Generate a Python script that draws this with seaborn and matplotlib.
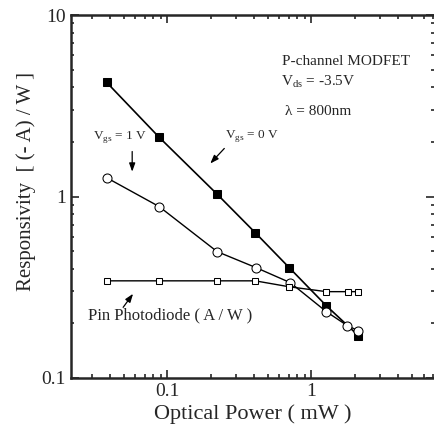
import numpy as np
import pandas as pd
import matplotlib
matplotlib.use("Agg")
import matplotlib.pyplot as plt
import seaborn as sns

# valeurs (puissance en mW, réponse en A/W)
power_vgs0 = [0.038, 0.088, 0.222, 0.408, 0.703, 1.27, 2.12]
resp_vgs0 = [4.26, 2.12, 1.03, 0.632, 0.405, 0.250, 0.171]

power_vgs1 = [0.038, 0.088, 0.222, 0.415, 0.715, 1.27, 1.78, 2.12]
resp_vgs1 = [1.27, 0.88, 0.497, 0.405, 0.335, 0.232, 0.194, 0.182]

power_pin = [0.038, 0.088, 0.222, 0.408, 0.703, 1.27, 1.80, 2.12]
resp_pin = [0.343, 0.343, 0.343, 0.343, 0.318, 0.299, 0.299, 0.299]

sns.set_style("ticks")
plt.rcParams['font.family'] = ['Liberation Serif', 'DejaVu Serif']
plt.rcParams['mathtext.fontset'] = 'custom'
plt.rcParams['mathtext.rm'] = 'Liberation Serif'

fig = plt.figure(figsize=(4.35, 4.30), dpi=100)
ax = fig.add_axes([0.163, 0.121, 0.835, 0.844])

sns.lineplot(x=power_vgs0, y=resp_vgs0, ax=ax, color='black', lw=1.2,
             marker='s', markersize=5.5, markerfacecolor='black', markeredgecolor='black')
sns.lineplot(x=power_vgs1, y=resp_vgs1, ax=ax, color='black', lw=1.0,
             marker='o', markersize=6.5, markerfacecolor='white', markeredgecolor='black')
sns.lineplot(x=power_pin, y=resp_pin, ax=ax, color='black', lw=1.0,
             marker='s', markersize=5, markerfacecolor='white', markeredgecolor='black')

ax.set_xscale('log')
ax.set_yscale('log')
ax.set_xlim(0.0215, 7.1)
ax.set_ylim(0.1, 10)
ax.set_xticks([0.1, 1])
ax.set_xticklabels(['0.1', '1'])
ax.set_yticks([0.1, 1, 10])
ax.set_yticklabels(['0.1', '1', '10'])

ax.tick_params(which='both', direction='in', top=True, right=True, labelsize=14, width=1.2)
ax.tick_params(which='major', length=6)
ax.tick_params(which='minor', length=3)
ax.tick_params(axis='y', which='both', right=True, length=2.5)
ax.tick_params(axis='y', which='major', left=True, length=6)
for side in ['left', 'bottom', 'top']:
    ax.spines[side].set_linewidth(1.8)
ax.spines['right'].set_linewidth(0.6)

ax.set_xlabel('Optical Power ( mW )', fontsize=16, labelpad=3)
ax.set_ylabel('Responsivity  [ (- A) / W ]', fontsize=15, labelpad=4)
ax.yaxis.set_label_coords(-0.095, 0.54)

# annotations
ax.text(1.75, 5.57, 'P-channel MODFET', fontsize=11, ha='center', va='center')
ax.text(0.62, 4.27, r'V$_{\rm ds}$ = -3.5V', fontsize=11, ha='left', va='center')
ax.text(0.66, 2.95, 'λ = 800nm', fontsize=11, ha='left', va='center')
ax.text(0.25, 2.15, r'V$_{\rm gs}$ = 0 V', fontsize=9.5, ha='left', va='center')
ax.text(0.0306, 2.12, r'V$_{\rm gs}$ = 1 V', fontsize=9.5, ha='left', va='center')
ax.text(0.0283, 0.222, 'Pin Photodiode ( A / W )', fontsize=12, ha='left', va='center')

arrow = dict(arrowstyle='-|>,head_length=0.5,head_width=0.18', color='black', lw=0.9,
             shrinkA=0, shrinkB=0)
ax.annotate('', xy=(0.199, 1.52), xytext=(0.249, 1.84), arrowprops=arrow)
ax.annotate('', xy=(0.0572, 1.37), xytext=(0.0572, 1.77), arrowprops=arrow)
ax.annotate('', xy=(0.058, 0.291), xytext=(0.0495, 0.245), arrowprops=arrow)

fig.savefig('out.png', dpi=100)
